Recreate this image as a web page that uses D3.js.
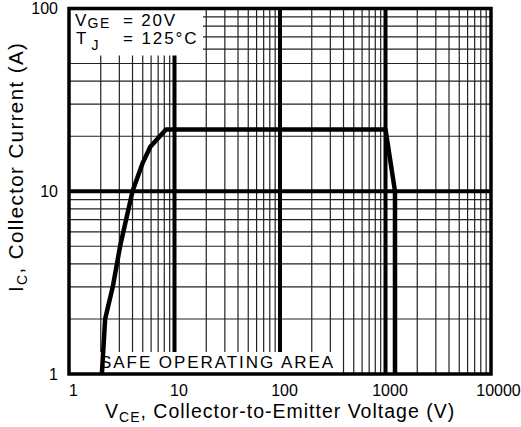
<!DOCTYPE html>
<html><head><meta charset="utf-8">
<script src="https://cdn.jsdelivr.net/npm/d3@7"></script>
<style>body{margin:0;background:#fff}svg{display:block}text{font-family:"Liberation Sans",Arial,sans-serif;fill:#000}</style>
</head><body>
<svg id="c" width="521" height="427"></svg>
<script>
// Data
const vce = [2.05, 2.2, 2.6, 3.05, 4.0, 5.0, 5.9, 8.3, 1000, 1230, 1230];
const ic  = [1, 2, 3, 5, 10, 14.3, 17.5, 21.8, 21.8, 10, 1];
const xTicks = [1, 10, 100, 1000, 10000];
const yTicks = [1, 10, 100];
const xMajorGrid = [10, 100, 1000];
const yMajorGrid = [10];

const svg = d3.select("#c");
const L = 69, R = 491, T = 8.5, B = 374;
const x = d3.scaleLog().domain([1, 10000]).range([L, R]);
const y = d3.scaleLog().domain([1, 100]).range([B, T]);

// minor grid
const xMinor = [], yMinor = [];
for (let d = 1; d < 10000; d *= 10) for (let k = 2; k <= 9; k++) xMinor.push(d * k);
for (let d = 1; d < 100; d *= 10) for (let k = 2; k <= 9; k++) yMinor.push(d * k);

const g = svg.append("g");
g.selectAll(".vx").data(xMinor).join("line")
  .attr("x1", d => x(d)).attr("x2", d => x(d)).attr("y1", T).attr("y2", B)
  .attr("stroke", "#222").attr("stroke-width", 1.2);
g.selectAll(".hy").data(yMinor).join("line")
  .attr("y1", d => y(d)).attr("y2", d => y(d)).attr("x1", L).attr("x2", R)
  .attr("stroke", "#222").attr("stroke-width", 1.2);
g.selectAll(".vX").data(xMajorGrid).join("line")
  .attr("x1", d => x(d)).attr("x2", d => x(d)).attr("y1", T).attr("y2", B)
  .attr("stroke", "#000").attr("stroke-width", 4);
g.selectAll(".hY").data(yMajorGrid).join("line")
  .attr("y1", d => y(d)).attr("y2", d => y(d)).attr("x1", L).attr("x2", R)
  .attr("stroke", "#000").attr("stroke-width", 4);

// legend box
svg.append("rect").attr("x", L).attr("y", T).attr("width", 134).attr("height", 47).attr("fill", "#fff");
// SOA label background
svg.append("rect").attr("x", 99).attr("y", 352).attr("width", 236).attr("height", 21).attr("fill", "#fff");

const lt = svg.append("text").attr("x", 75).attr("y", 26).attr("font-size", 17).attr("letter-spacing", 1.2);
lt.append("tspan").text("V");
lt.append("tspan").attr("font-size", 14).attr("dy", 2).attr("letter-spacing", 1.6).text("GE");
svg.append("text").attr("x", 123).attr("y", 26).attr("font-size", 17).attr("letter-spacing", 1.8).text("= 20V");
const lt2 = svg.append("text").attr("x", 76).attr("y", 44).attr("font-size", 17);
lt2.append("tspan").text("T");
lt2.append("tspan").attr("font-size", 14).attr("dx", 5).attr("dy", 6).text("J");
svg.append("text").attr("x", 123).attr("y", 44).attr("font-size", 17).attr("letter-spacing", 1.9).text("= 125\u00B0C");

svg.append("text").attr("x", 100).attr("y", 368).attr("font-size", 17)
  .attr("textLength", 233).attr("lengthAdjust", "spacing").text("SAFE OPERATING AREA");

// curve
const line = d3.line().x((d, i) => x(vce[i])).y((d, i) => y(ic[i]));
svg.append("path").attr("d", line(vce)).attr("fill", "none").attr("stroke", "#000")
  .attr("stroke-width", 4.5).attr("stroke-linejoin", "round");

// frame
svg.append("rect").attr("x", L).attr("y", T).attr("width", R - L).attr("height", B - T)
  .attr("fill", "none").attr("stroke", "#000").attr("stroke-width", 3.5);

// axes labels
const xa = svg.append("g").attr("transform", `translate(0,${B})`)
  .call(d3.axisBottom(x).tickValues(xTicks).tickFormat(d3.format("d")).tickSize(0).tickPadding(11));
xa.select(".domain").remove();
xa.selectAll("text").attr("font-size", 16).attr("font-family", "Liberation Sans, Arial, sans-serif").attr("dx", 4);
xa.selectAll("text").filter(d => d === 10000).attr("dx", 7);
const ya = svg.append("g").attr("transform", `translate(${L},0)`)
  .call(d3.axisLeft(y).tickValues(yTicks).tickFormat(d3.format("d")).tickSize(0).tickPadding(11));
ya.select(".domain").remove();
ya.selectAll("text").attr("font-size", 16).attr("font-family", "Liberation Sans, Arial, sans-serif");

const xt = svg.append("text").attr("x", 105).attr("y", 418).attr("font-size", 19.5).attr("letter-spacing", 1);
xt.append("tspan").text("V");
xt.append("tspan").attr("font-size", 14).attr("dy", 4).text("CE");
xt.append("tspan").attr("dy", -4).text(", Collector-to-Emitter Voltage (V)");

const yt = svg.append("text").attr("transform", "translate(23,292) rotate(-90)").attr("font-size", 20.5).attr("letter-spacing", 1.4);
yt.append("tspan").text("I");
yt.append("tspan").attr("font-size", 14).attr("dy", 4).text("C");
yt.append("tspan").attr("dy", -4).text(", Collector Current (A)");
</script>
</body></html>
